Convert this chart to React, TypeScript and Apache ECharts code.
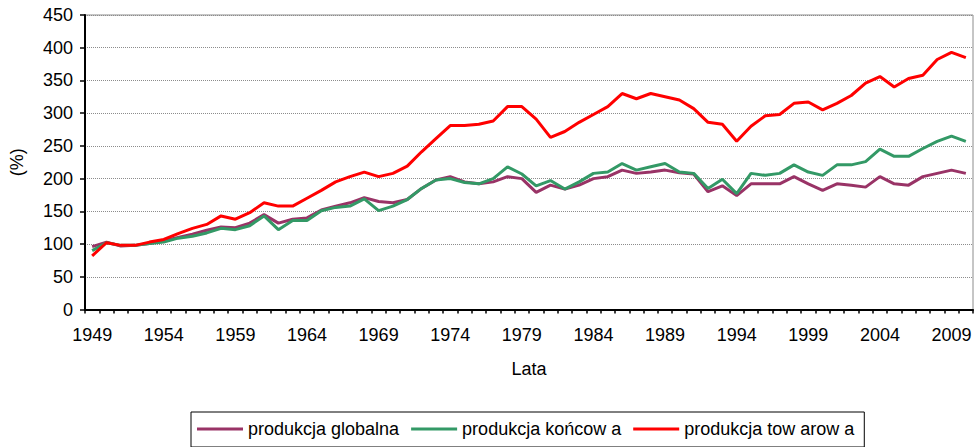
import React, { useEffect, useRef } from "react";
import * as echarts from "echarts";

const years = [
  "1949", "1950", "1951", "1952", "1953", "1954", "1955", "1956", "1957", "1958",
  "1959", "1960", "1961", "1962", "1963", "1964", "1965", "1966", "1967", "1968",
  "1969", "1970", "1971", "1972", "1973", "1974", "1975", "1976", "1977", "1978",
  "1979", "1980", "1981", "1982", "1983", "1984", "1985", "1986", "1987", "1988",
  "1989", "1990", "1991", "1992", "1993", "1994", "1995", "1996", "1997", "1998",
  "1999", "2000", "2001", "2002", "2003", "2004", "2005", "2006", "2007", "2008",
  "2009", "2010",
];

const globalna = [
  96, 103, 97, 98, 101, 105, 110, 115, 121, 126,
  125, 132, 145, 132, 138, 140, 152, 158, 163, 171,
  165, 163, 168, 185, 198, 203, 195, 192, 195, 203,
  200, 179, 190, 184, 190, 200, 203, 213, 208, 210,
  213, 209, 207, 180, 189, 174, 192, 192, 192, 203,
  192, 182, 192, 190, 187, 203, 192, 190, 203, 208,
  213, 208,
];

const koncowa = [
  90, 102, 98, 98, 101, 103, 109, 112, 117, 124,
  122, 128, 143, 122, 136, 136, 151, 156, 158, 169,
  151, 158, 168, 185, 198, 200, 194, 192, 200, 218,
  207, 189, 197, 184, 195, 208, 210, 223, 213, 218,
  223, 210, 208, 185, 199, 177, 208, 205, 208, 221,
  210, 205, 221, 221, 226, 245, 234, 234, 246, 257,
  265, 257,
];

const towarowa = [
  82, 102, 98, 98, 103, 107, 116, 124, 130, 143,
  138, 148, 163, 158, 158, 170, 182, 195, 203, 210,
  203, 208, 219, 241, 261, 281, 281, 283, 288, 310,
  310, 291, 263, 272, 286, 298, 310, 330, 322, 330,
  325, 320, 307, 286, 283, 257, 280, 296, 298, 315,
  317, 305, 315, 327, 346, 356, 340, 353, 358, 382,
  393, 385,
];

const seriesNames = ["produkcja globalna", "produkcja końcow a", "produkcja tow arow a"];
const seriesColors = ["#993366", "#339966", "#FF0000"];

const FONT = "'Liberation Sans', Arial, sans-serif";

export default function App() {
  const ref = useRef<HTMLDivElement>(null);

  useEffect(() => {
    if (!ref.current) return;
    const chart = echarts.init(ref.current, undefined, { renderer: "svg" });
    const dataSets = [globalna, koncowa, towarowa];
    chart.setOption({
      animation: false,
      backgroundColor: "#ffffff",
      textStyle: { fontFamily: FONT },
      grid: {
        left: 85,
        right: 5,
        top: 15,
        bottom: 137.5,
        show: true,
        borderColor: "#8c8c8c",
        borderWidth: 1,
      },
      legend: {
        left: 191,
        top: 412,
        orient: "horizontal",
        icon: "rect",
        itemWidth: 46,
        itemHeight: 3,
        itemGap: 12,
        padding: [8, 10, 9, 6],
        borderColor: "#000",
        borderWidth: 1,
        textStyle: { fontSize: 18, color: "#000", fontFamily: FONT },
        data: seriesNames,
      },
      xAxis: {
        type: "category",
        data: years,
        boundaryGap: true,
        name: "Lata",
        nameLocation: "middle",
        nameGap: 50,
        nameTextStyle: { fontSize: 18, color: "#000", fontFamily: FONT },
        axisLine: { show: true, lineStyle: { color: "#000", width: 2 } },
        axisTick: { show: true, interval: 0, length: 4, lineStyle: { color: "#000", width: 1.5 } },
        axisLabel: { interval: 4, margin: 16, fontSize: 18, color: "#000", fontFamily: FONT },
        splitLine: { show: false },
      },
      yAxis: {
        type: "value",
        min: 0,
        max: 450,
        interval: 50,
        name: "(%)",
        nameLocation: "middle",
        nameGap: 59,
        nameTextStyle: { fontSize: 18, color: "#000", fontFamily: FONT },
        axisLine: { show: true, lineStyle: { color: "#000", width: 2 } },
        axisTick: { show: true, length: 5, lineStyle: { color: "#000", width: 1.5 } },
        axisLabel: { margin: 12, fontSize: 18, color: "#000", fontFamily: FONT },
        splitLine: { show: true, lineStyle: { color: "#8c8c8c", type: "dotted", width: 1 } },
      },
      series: seriesNames.map((name, i) => ({
        name,
        type: "line",
        data: dataSets[i],
        symbol: "none",
        lineStyle: { color: seriesColors[i], width: 3 },
        itemStyle: { color: seriesColors[i] },
      })),
    });
    return () => chart.dispose();
  }, []);

  return (
    <div
      ref={ref}
      style={{ position: "fixed", left: 0, top: 0, width: 978, height: 447, background: "#fff" }}
    />
  );
}
